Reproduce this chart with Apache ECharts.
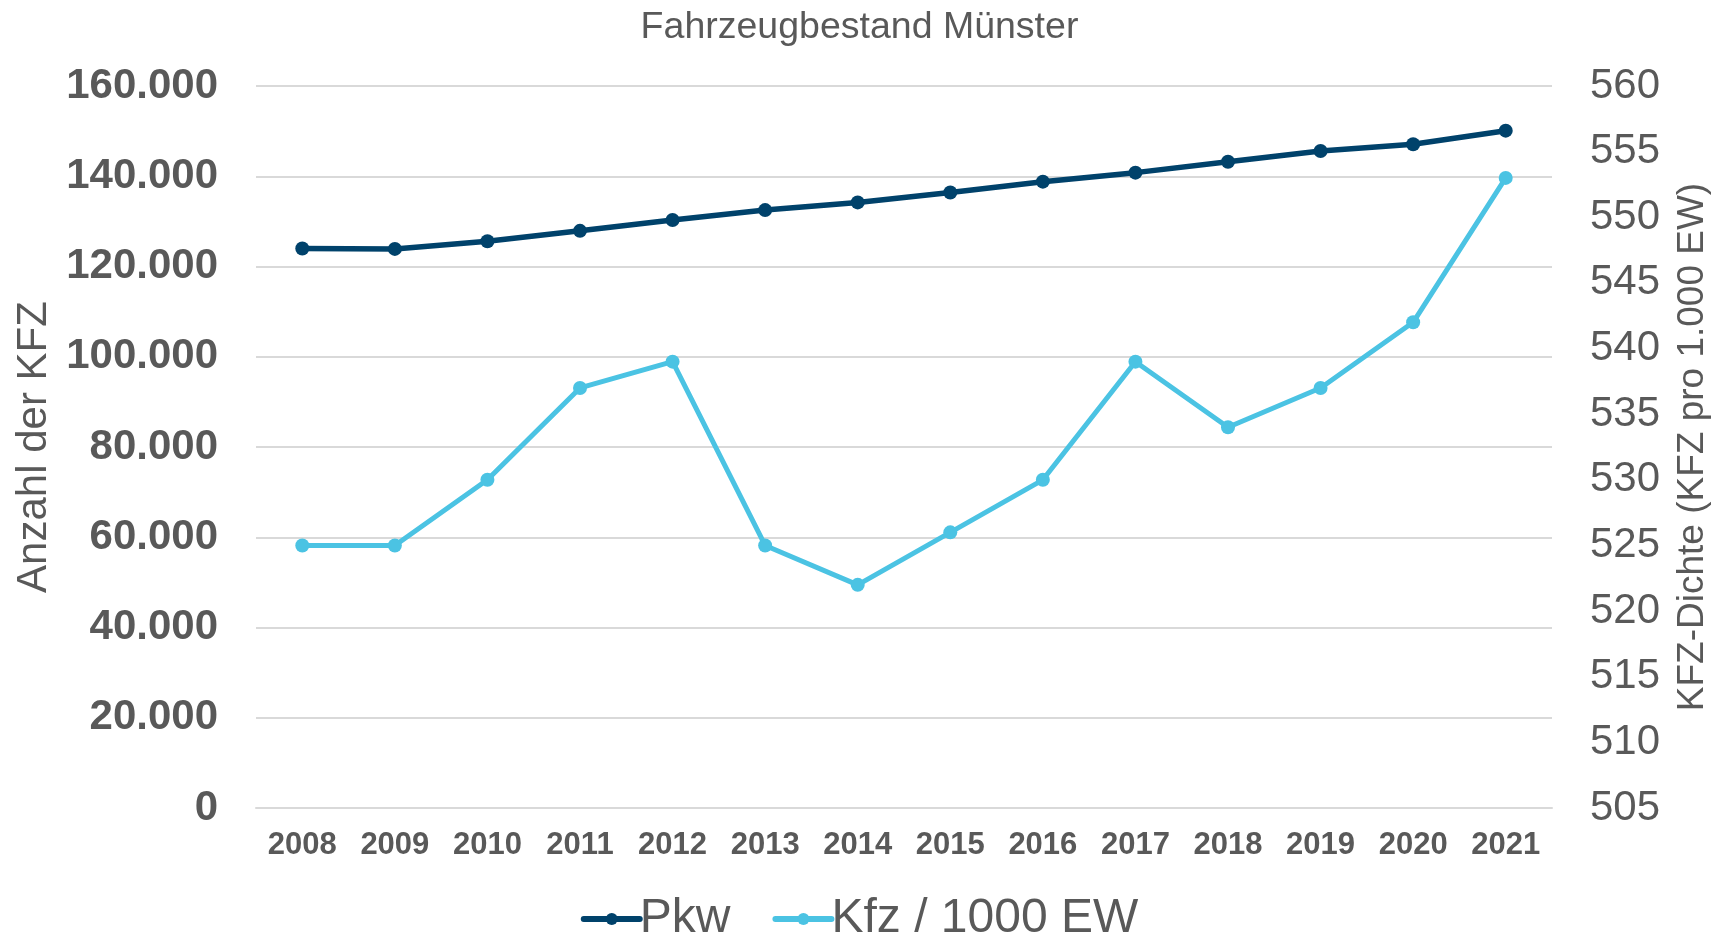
<!DOCTYPE html>
<html>
<head>
<meta charset="utf-8">
<title>Fahrzeugbestand Münster</title>
<script src="https://cdn.jsdelivr.net/npm/echarts@6/dist/echarts.min.js"></script>
<style>
  html, body { margin: 0; padding: 0; background: #fff; }
  #chart { width: 1719px; height: 934px; }
</style>
</head>
<body>
<div id="chart"></div>
<script>
// Jahre
const years = ['2008', '2009', '2010', '2011', '2012', '2013', '2014', '2015', '2016', '2017', '2018', '2019', '2020', '2021']
// Pkw-Bestand (linke Achse)
const pkw = [124000, 123900, 125600, 127900, 130300, 132500, 134200, 136400, 138800, 140800, 143200, 145600, 147100, 150100]
// Kfz pro 1000 Einwohner (rechte Achse)
const kfzDichte = [525, 525, 530, 537, 539, 525, 522, 526, 530, 539, 534, 537, 542, 553]

const textColor = '#595959'
const gridColor = '#d9d9d9'
const font = 'Liberation Sans, Arial, sans-serif'

// 160000 -> "160.000"
function dotThousands(v) {
  return String(v).replace(/\B(?=(\d{3})+(?!\d))/g, '.')
}

const chart = echarts.init(document.getElementById('chart'))
const option = {
  animation: false,
  textStyle: { fontFamily: font },
  title: {
    text: 'Fahrzeugbestand Münster',
    left: 'center',
    top: 4,
    textStyle: { fontFamily: font, fontSize: 37.5, fontWeight: 'normal', color: textColor }
  },
  legend: {
    bottom: -14,
    left: 'center',
    itemWidth: 56,
    itemHeight: 15,
    itemGap: 42,
    lineStyle: { width: 6, cap: 'round' },
    textStyle: { fontFamily: font, fontSize: 48, color: textColor, padding: [0, 0, 0, -5] },
    data: ['Pkw', 'Kfz / 1000 EW']
  },
  grid: {
    left: 256,
    right: 160,
    top: 86,
    bottom: 126,
    containLabel: false
  },
  xAxis: {
    type: 'category',
    data: years,
    boundaryGap: true,
    axisLine: { lineStyle: { color: gridColor, width: 2 } },
    axisTick: { show: false },
    axisLabel: { margin: 22, fontFamily: font, fontSize: 31, fontWeight: 'bold', color: textColor }
  },
  yAxis: [
    {
      type: 'value',
      min: 0,
      max: 160000,
      interval: 20000,
      name: 'Anzahl der KFZ',
      nameLocation: 'middle',
      nameGap: 200,
      nameTextStyle: { fontFamily: font, fontSize: 42, color: textColor },
      axisLine: { show: false },
      axisTick: { show: false },
      axisLabel: {
        margin: 38,
        fontFamily: font,
        fontSize: 42,
        fontWeight: 'bold',
        color: textColor,
        formatter: dotThousands
      },
      splitLine: { lineStyle: { color: gridColor, width: 2 } }
    },
    {
      type: 'value',
      min: 505,
      max: 560,
      interval: 5,
      name: 'KFZ-Dichte (KFZ pro 1.000 EW)',
      nameLocation: 'middle',
      nameGap: 122,
      nameTextStyle: { fontFamily: font, fontSize: 37, color: textColor },
      axisLine: { show: false },
      axisTick: { show: false },
      axisLabel: { margin: 38, fontFamily: font, fontSize: 42, color: textColor },
      splitLine: { show: false }
    }
  ],
  series: [
    {
      name: 'Pkw',
      type: 'line',
      yAxisIndex: 0,
      data: pkw,
      symbol: 'circle',
      symbolSize: 14,
      lineStyle: { color: '#00426b', width: 5.5 },
      itemStyle: { color: '#00426b' }
    },
    {
      name: 'Kfz / 1000 EW',
      type: 'line',
      yAxisIndex: 1,
      data: kfzDichte,
      symbol: 'circle',
      symbolSize: 14,
      lineStyle: { color: '#4bc3e3', width: 5 },
      itemStyle: { color: '#4bc3e3' }
    }
  ]
}
chart.setOption(option)
</script>
</body>
</html>
